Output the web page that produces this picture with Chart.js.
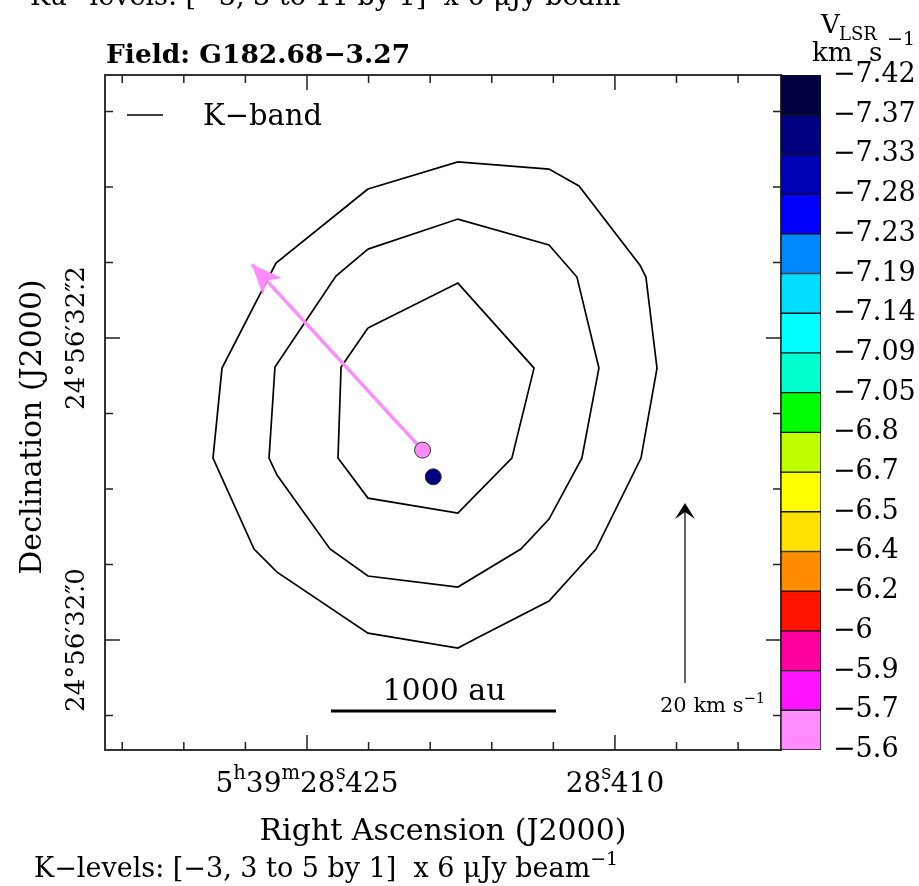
<!DOCTYPE html>
<html>
<head>
<meta charset="utf-8">
<script src="https://cdn.jsdelivr.net/npm/chart.js@4"></script>
<style>
  body { margin: 0; background: #fff; }
  #wrap { position: relative; width: 919px; height: 886px; }
  #cb { position: absolute; left: 771px; top: 0; }
</style>
</head>
<body>
<div id="wrap">
  <canvas id="main" width="919" height="886"></canvas>
  <canvas id="cb" width="148" height="886"></canvas>
</div>
<script>
// x = RA seconds - 28.4 s, in ms of time ; y = Dec arcsec - 32", in 0.01"
const F = 'DejaVu Serif';

// K-band contours (3, 4, 5 x 6 uJy/beam)
const contour3 = [[22.03,29.87],[17.65,31.66],[13.21,31.19],[11.75,30.07],[8.78,24.83],[8.49,24.04],[7.95,18.01],[8.73,12.05],[10.92,6.03],[13.21,2.58],[16.72,0.13],[17.65,-0.53],[22.03,0.46],[26.46,4.50],[27.58,6.03],[29.58,12.05],[29.14,18.01],[26.51,24.97],[22.03,29.87]];
const contour4 = [[22.03,25.89],[17.65,27.88],[13.21,26.16],[11.85,24.04],[10.78,18.01],[11.61,12.05],[13.21,8.01],[14.58,6.03],[17.65,3.51],[22.03,4.24],[23.88,6.03],[26.46,10.93],[26.85,12.05],[26.56,18.08],[23.59,24.11],[22.03,25.89]];
const contour5 = [[22.03,20.66],[17.65,23.64],[13.94,18.01],[15.02,12.05],[17.65,8.41],[22.03,9.40],[23.49,12.05],[23.34,18.08],[22.03,20.66]];

// maser spots
const spotX = [19.37, 18.85];
const spotY = [12.58, 10.81];
const spotVel = [-5.6, -7.37];
const spotColor = ['#ff8cff', '#000080'];

// proper motion vector of the pink spot (tip)
const pmTip = [27.69, 24.88];

// axis ticks
const raTicks = [4, 7, 10, 13, 16, 19, 22, 25, 28, 31, 34];
const raMajor = [10, 25];
const raLabels = ['28^s~.410', '5^h39^m28^s~.425'];
const decTicks = [-5, 0, 5, 10, 15, 20, 25, 30, 35];
const decMajor = [0, 20];
const decLabels = ['24°56′32″~.0', '24°56′32″~.2'];

// colour bar
const cbLabels = ['−7.42','−7.37','−7.33','−7.28','−7.23','−7.19','−7.14','−7.09','−7.05','−6.8','−6.7','−6.5','−6.4','−6.2','−6','−5.9','−5.7','−5.6'];
const cbColors = ['#000040','#000080','#0000b4','#0000ff','#0088ff','#00ddff','#00ffff','#00ffcc','#00ff00','#c0ff00','#ffff00','#ffe000','#ff8c00','#ff1400','#ff00a0','#ff14ff','#ff8cff'];

const toPts = a => a.map(p => ({ x: p[0], y: p[1] }));

// text with ^superscripts and ~back-stepped period
function parseRich(str, size) {
  const parts = [];
  let buf = '';
  for (let i = 0; i < str.length; i++) {
    const c = str[i];
    if (c === '^') {
      if (buf) parts.push({ t: buf, dy: 0, sc: 1 });
      buf = '';
      parts.push({ t: str[i + 1], dy: size * 0.45, sc: 0.7 });
      i++;
    } else if (c === '~') {
      if (buf) parts.push({ t: buf, dy: 0, sc: 1 });
      buf = '';
      parts.push({ t: str[i + 1], dy: 0, sc: 1, back: true });
      i++;
    } else buf += c;
  }
  if (buf) parts.push({ t: buf, dy: 0, sc: 1 });
  return parts;
}
function drawRich(ctx, str, x, y, size, align) {
  const parts = parseRich(str, size);
  let w = 0, prev = 0;
  for (const p of parts) {
    ctx.font = `${size * p.sc}px '${F}'`;
    const pw = ctx.measureText(p.t).width;
    p.dx = p.back ? -(prev / 2 + pw / 2) : 0;
    w += p.dx + pw;
    prev = ctx.measureText(p.t.slice(-1)).width;
  }
  let cx = align === 'center' ? x - w / 2 : align === 'right' ? x - w : x;
  ctx.textAlign = 'left';
  ctx.textBaseline = 'alphabetic';
  for (const p of parts) {
    ctx.font = `${size * p.sc}px '${F}'`;
    cx += p.dx;
    ctx.fillText(p.t, cx, y - p.dy);
    cx += ctx.measureText(p.t).width;
  }
}

const decor = {
  id: 'decor',
  afterDatasetsDraw(chart) {
    const ctx = chart.ctx;
    const { left, right, top, bottom } = chart.chartArea;
    const xs = chart.scales.x, ys = chart.scales.y;
    ctx.save();

    // pink arrow head
    const x0 = xs.getPixelForValue(spotX[0]), y0 = ys.getPixelForValue(spotY[0]);
    const x1 = xs.getPixelForValue(pmTip[0]), y1 = ys.getPixelForValue(pmTip[1]);
    const ang = Math.atan2(y1 - y0, x1 - x0);
    ctx.fillStyle = '#ff8cff';
    ctx.beginPath();
    ctx.moveTo(x1, y1);
    ctx.lineTo(x1 - 33 * Math.cos(ang - 0.4), y1 - 33 * Math.sin(ang - 0.4));
    ctx.lineTo(x1 - 22 * Math.cos(ang), y1 - 22 * Math.sin(ang));
    ctx.lineTo(x1 - 33 * Math.cos(ang + 0.4), y1 - 33 * Math.sin(ang + 0.4));
    ctx.closePath();
    ctx.fill();

    // frame
    ctx.strokeStyle = '#333';
    ctx.lineWidth = 2;
    ctx.strokeRect(left, top, right - left, bottom - top);

    // ticks, drawn inwards on all four sides
    ctx.lineWidth = 1.5;
    ctx.strokeStyle = '#222';
    ctx.beginPath();
    raTicks.forEach(v => {
      const px = xs.getPixelForValue(v), len = raMajor.includes(v) ? 15 : 8;
      ctx.moveTo(px, bottom); ctx.lineTo(px, bottom - len);
      ctx.moveTo(px, top); ctx.lineTo(px, top + len);
    });
    decTicks.forEach(v => {
      const py = ys.getPixelForValue(v), len = decMajor.includes(v) ? 15 : 8;
      ctx.moveTo(left, py); ctx.lineTo(left + len, py);
      ctx.moveTo(right, py); ctx.lineTo(right - len, py);
    });
    ctx.stroke();

    ctx.fillStyle = '#000';
    // RA labels
    raMajor.forEach((v, i) => drawRich(ctx, raLabels[i], xs.getPixelForValue(v), 792, 28, 'center'));
    // Dec labels (rotated)
    decMajor.forEach((v, i) => {
      ctx.save();
      ctx.translate(84, ys.getPixelForValue(v));
      ctx.rotate(-Math.PI / 2);
      drawRich(ctx, decLabels[i], 0, 0, 26, 'center');
      ctx.restore();
    });

    // axis titles
    ctx.font = `30px '${F}'`;
    ctx.textAlign = 'center';
    ctx.fillText('Right Ascension (J2000)', (left + right) / 2, 840);
    ctx.save();
    ctx.translate(41, 427);
    ctx.rotate(-Math.PI / 2);
    ctx.fillText('Declination (J2000)', 0, 0);
    ctx.restore();

    // title
    ctx.font = `bold 26.5px '${F}'`;
    ctx.textAlign = 'left';
    ctx.fillText('Field: G182.68−3.27', 106, 63);

    // legend
    ctx.lineWidth = 1.5;
    ctx.strokeStyle = '#000';
    ctx.beginPath(); ctx.moveTo(127, 115); ctx.lineTo(163, 115); ctx.stroke();
    ctx.font = `29px '${F}'`;
    ctx.fillText('K−band', 203, 125);

    // scale bar
    ctx.lineWidth = 3;
    ctx.beginPath(); ctx.moveTo(331, 711); ctx.lineTo(556, 711); ctx.stroke();
    ctx.font = `30px '${F}'`;
    ctx.textAlign = 'center';
    ctx.fillText('1000 au', 444, 700);

    // velocity scale arrow
    ctx.lineWidth = 1.5;
    ctx.strokeStyle = '#333';
    ctx.beginPath(); ctx.moveTo(685, 683); ctx.lineTo(685, 507); ctx.stroke();
    ctx.fillStyle = '#000';
    ctx.beginPath();
    ctx.moveTo(685, 503); ctx.lineTo(695, 519); ctx.lineTo(685, 512); ctx.lineTo(675, 519);
    ctx.closePath(); ctx.fill();
    drawRich(ctx, '20 km s^−^1', 660, 712, 21, 'left');

    // contour level notes
    drawRich(ctx, 'K−levels: [−3, 3 to 5 by 1]  x 6 μJy beam^−^1', 34, 877, 27, 'left');
    drawRich(ctx, 'Ku−levels: [−3, 3 to 11 by 1]  x 6 μJy beam^−^1', 30, 5, 27, 'left');

    // colour bar header
    ctx.font = `26px '${F}'`;
    ctx.textAlign = 'left';
    ctx.fillText('V', 821, 33);
    ctx.font = `18px '${F}'`;
    ctx.fillText('LSR', 839, 40);
    ctx.font = `26px '${F}'`;
    ctx.fillText('km', 812, 61);
    ctx.fillText('s', 869, 61);
    ctx.font = `19px '${F}'`;
    ctx.fillText('−1', 887, 45);

    ctx.restore();
  }
};

new Chart(document.getElementById('main'), {
  type: 'scatter',
  data: {
    datasets: [
      {
        data: spotX.map((x, i) => ({ x, y: spotY[i] })),
        pointBackgroundColor: spotColor,
        pointBorderColor: '#333',
        pointBorderWidth: 1,
        pointRadius: 8
      },
      {
        data: [{ x: spotX[0], y: spotY[0] }, { x: pmTip[0], y: pmTip[1] }],
        showLine: true,
        borderColor: '#ff8cff',
        borderWidth: 3.5,
        pointRadius: 0
      },
      { data: toPts(contour3), showLine: true, borderColor: '#000', borderWidth: 1.7, pointRadius: 0 },
      { data: toPts(contour4), showLine: true, borderColor: '#000', borderWidth: 1.7, pointRadius: 0 },
      { data: toPts(contour5), showLine: true, borderColor: '#000', borderWidth: 1.7, pointRadius: 0 }
    ]
  },
  options: {
    responsive: false,
    animation: false,
    layout: { padding: { left: 105, right: 138, top: 75, bottom: 136 } },
    plugins: { legend: { display: false }, tooltip: { enabled: false } },
    scales: {
      x: { type: 'linear', display: false, min: 1.91, max: 34.84, reverse: true },
      y: { type: 'linear', display: false, min: -7.28, max: 37.42 }
    }
  },
  plugins: [decor]
});

new Chart(document.getElementById('cb'), {
  type: 'bar',
  data: {
    labels: [''],
    datasets: cbColors.map(c => ({
      data: [1],
      backgroundColor: c,
      borderColor: '#111',
      borderWidth: 1,
      borderSkipped: false,
      barPercentage: 1,
      categoryPercentage: 1
    }))
  },
  options: {
    responsive: false,
    animation: false,
    layout: { padding: { left: 10, top: 75, bottom: 136, right: 0 } },
    plugins: { legend: { display: false }, tooltip: { enabled: false } },
    scales: {
      x: { display: false, stacked: true },
      y: {
        stacked: true,
        position: 'right',
        min: 0,
        max: 17,
        reverse: true,
        afterFit: s => { s.width = 98; },
        grid: { display: false, drawTicks: false },
        border: { display: false },
        ticks: {
          stepSize: 1,
          autoSkip: false,
          padding: 12,
          color: '#000',
          font: { family: F, size: 27 },
          callback: v => cbLabels[v]
        }
      }
    }
  }
});
</script>
</body>
</html>
